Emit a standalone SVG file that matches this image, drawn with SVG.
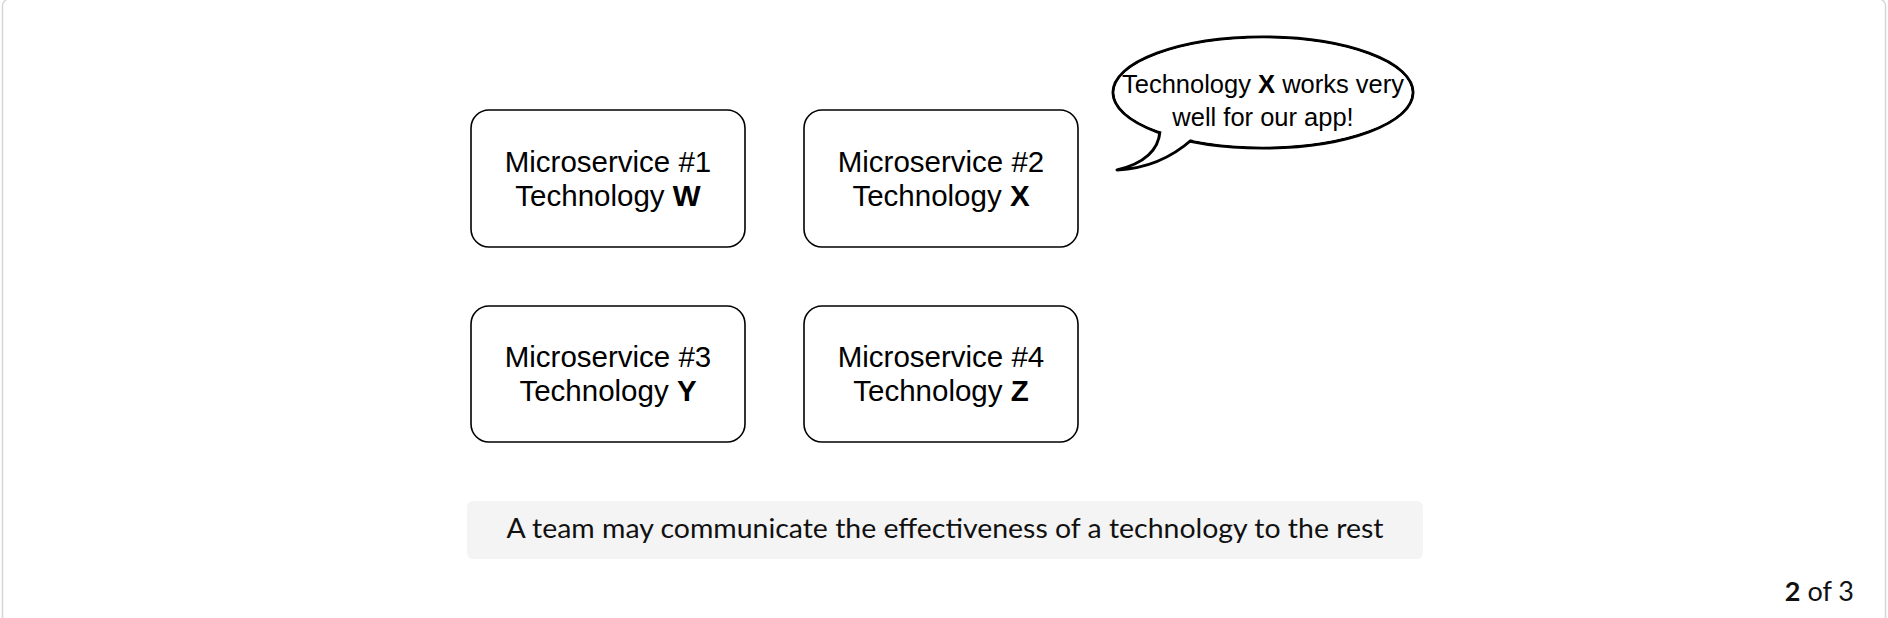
<svg xmlns="http://www.w3.org/2000/svg" width="1888" height="618" viewBox="0 0 1888 618">
<style>
.box{fill:#fff;stroke:#000;stroke-width:1.6}
.t{font-family:"Liberation Sans",Arial,sans-serif;font-size:29.5px;fill:#000;text-anchor:middle}
.bt{font-family:"Liberation Sans",Arial,sans-serif;font-size:25.5px;fill:#000;text-anchor:middle}
.b{font-weight:bold}
.cap{font-family:Lato,"Noto Sans",sans-serif;font-size:27px;fill:#111;text-anchor:middle}
</style>
<rect x="0" y="0" width="1888" height="618" fill="#fff"/>
<rect id="frame" x="2.5" y="-1" width="1883" height="640" rx="7" fill="none" stroke="#d6d6da" stroke-width="1.5"/>
<g id="node1">
<rect class="box" x="471" y="110" width="274" height="137" rx="18"/>
<text class="t" x="608" y="172">Microservice #1</text>
<text class="t" x="608" y="206">Technology <tspan class="b">W</tspan></text>
</g>
<g id="node2">
<rect class="box" x="804" y="110" width="274" height="137" rx="18"/>
<text class="t" x="941" y="172">Microservice #2</text>
<text class="t" x="941" y="206">Technology <tspan class="b">X</tspan></text>
</g>
<g id="node3">
<rect class="box" x="471" y="306" width="274" height="136" rx="18"/>
<text class="t" x="608" y="367">Microservice #3</text>
<text class="t" x="608" y="401">Technology <tspan class="b">Y</tspan></text>
</g>
<g id="node4">
<rect class="box" x="804" y="306" width="274" height="136" rx="18"/>
<text class="t" x="941" y="367">Microservice #4</text>
<text class="t" x="941" y="401">Technology <tspan class="b">Z</tspan></text>
</g>
<g id="bubble">
<ellipse cx="1263" cy="92.5" rx="150" ry="55.5" fill="#fff" stroke="#000" stroke-width="3"/>
<path d="M1160,131 Q1158,160 1117,170 Q1160,168 1192,139.5 L1180,115 Z" fill="#fff" stroke="#000" stroke-width="3" stroke-linejoin="round"/>
<ellipse cx="1263" cy="92.5" rx="148.4" ry="53.9" fill="#fff"/>
<text class="bt" x="1263" y="93">Technology <tspan class="b">X</tspan> works very</text>
<text class="bt" x="1263" y="126">well for our app!</text>
</g>
<g id="connectors"></g>
<g id="caption">
<rect x="467" y="501" width="956" height="58" rx="6" fill="#f4f4f4"/>
<text class="cap" x="945" y="538" textLength="877" lengthAdjust="spacingAndGlyphs">A team may communicate the effectiveness of a technology to the rest</text>
</g>
<g id="pager">
<text x="1854" y="601" font-family="Lato,'Noto Sans',sans-serif" font-size="27" fill="#111" text-anchor="end"><tspan font-weight="bold">2</tspan> of 3</text>
</g>
</svg>
